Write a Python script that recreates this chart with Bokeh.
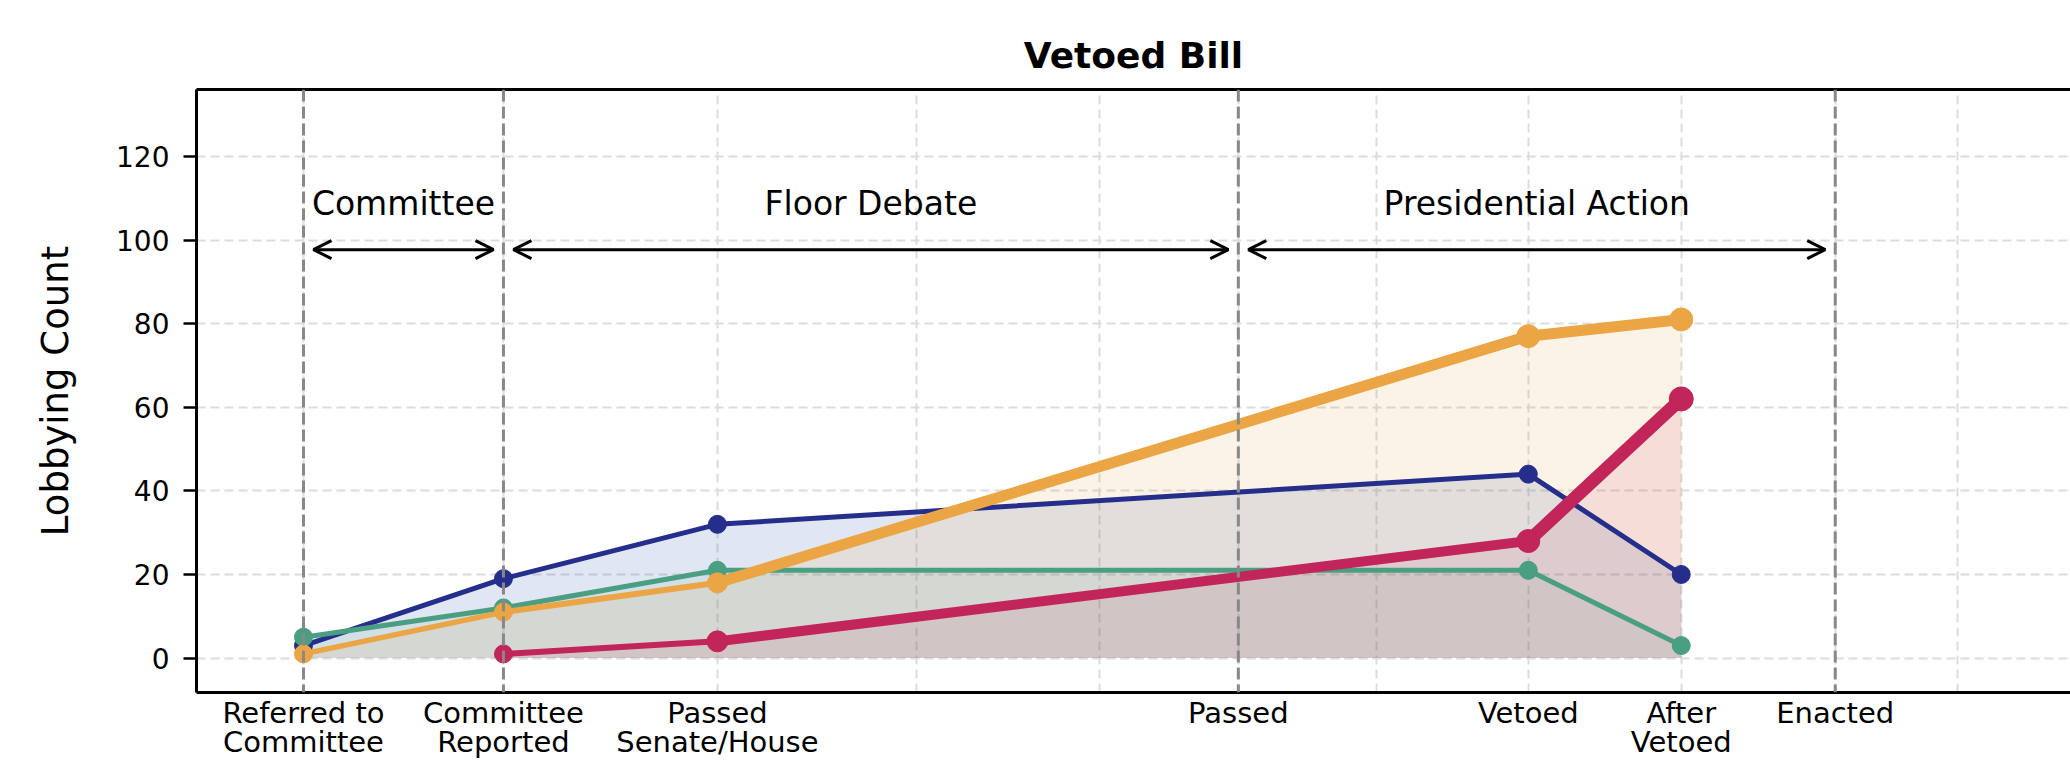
from bokeh.plotting import figure
from bokeh.models import (Range1d, FixedTicker, LinearAxis, Span, Arrow, OpenHead,
                          ColumnDataSource)
from bokeh.embed import file_html
from bokeh.resources import INLINE
from bokeh.core.properties import value

# ---------------- data ----------------
stage_labels = ["Referred to\nCommittee", "Committee\nReported", "Passed\nSenate/House",
                "Passed", "Vetoed", "After\nVetoed", "Enacted"]
stage_pos = [0, 200, 414, 935, 1225, 1378, 1532]
extra_grid_pos = [613, 796, 1073, 1654]

phase_names = ["Committee", "Floor Debate", "Presidential Action"]
phase_bounds = [0, 200, 935, 1532]

y_ticks = [0, 20, 40, 60, 80, 100, 120]

series_a = [3, 19, 32, None, 44, 20, None]      # navy
series_b = [5, 12, 21, None, 21, 3, None]       # green
series_c = [1, 11, 18, None, 77, 81, None]      # orange
series_d = [None, 1, 4, None, 28, 62, None]     # crimson

# ---------------- styles ----------------
FONT = "DejaVu Sans"
Y_START, Y_END = -8.23, 136.0
styles = [
    dict(vals=series_a, color="#252E8A", fill="#3060B0", alpha=0.15,
         seg_w=[5, 5, 5, 5], msize=[18, 18, 18, 18, 18]),
    dict(vals=series_b, color="#4A9E82", fill="#4D9E84", alpha=0.10,
         seg_w=[5, 5, 5, 5], msize=[18, 18, 18, 18, 18]),
    dict(vals=series_c, color="#EBA545", fill="#EBA545", alpha=0.13,
         seg_w=[5.5, 6, 11, 11], msize=[18, 18, 20, 23, 23]),
    dict(vals=series_d, color="#C2255A", fill="#C2265A", alpha=0.10,
         seg_w=[6, 10, 13], msize=[18, 21, 23, 24]),
]

p = figure(width=2070, height=762,
           x_range=Range1d(-107, 1767.3), y_range=Range1d(Y_START, Y_END),
           output_backend="svg", toolbar_location=None,
           min_border_left=196, min_border_right=0, min_border_top=89, min_border_bottom=70)
p.outline_line_color = None
p.background_fill_color = "white"
p.border_fill_color = "white"

# title
p.title.text = "Vetoed Bill"
p.title.align = "center"
p.title.text_font = FONT
p.title.text_font_size = "36px"
p.title.text_font_style = "bold"
p.title.text_color = "black"
p.title.standoff = 28

# grids
p.xgrid.ticker = FixedTicker(ticks=stage_pos + extra_grid_pos)
for g in (p.xgrid, p.ygrid):
    g.grid_line_color = "#dcdcdc"
    g.grid_line_dash = "9 5"
    g.grid_line_width = 2

# x axis with two-line stage labels
p.xaxis.ticker = FixedTicker(ticks=stage_pos)
p.xaxis.major_label_overrides = {pos: lab for pos, lab in zip(stage_pos, stage_labels)}
p.xaxis.major_tick_out = 0
p.xaxis.major_tick_in = 0
p.xaxis.minor_tick_out = 0
p.xaxis.minor_tick_in = 0
p.xaxis.axis_line_width = 3
p.xaxis.axis_line_color = "black"
p.xaxis.major_label_text_font = FONT
p.xaxis.major_label_text_font_size = "29px"
p.xaxis.major_label_text_line_height = 0.88
p.xaxis.major_label_text_color = "black"
p.xaxis.major_label_standoff = 3

# y axis
p.yaxis.ticker = FixedTicker(ticks=y_ticks)
p.yaxis.major_tick_out = 13
p.yaxis.major_tick_in = 0
p.yaxis.minor_tick_out = 0
p.yaxis.minor_tick_in = 0
p.yaxis.major_tick_line_width = 2.5
p.yaxis.major_tick_line_color = "black"
p.yaxis.axis_line_width = 3
p.yaxis.axis_line_color = "black"
p.yaxis.major_label_text_font = FONT
p.yaxis.major_label_text_font_size = "28px"
p.yaxis.major_label_text_color = "black"
p.yaxis.major_label_standoff = 14
p.yaxis.axis_label = "Lobbying Count"
p.yaxis.axis_label_text_font = FONT
p.yaxis.axis_label_text_font_size = "37px"
p.yaxis.axis_label_text_font_style = "normal"
p.yaxis.axis_label_text_color = "black"
p.yaxis.axis_label_standoff = 36

# top border
top = LinearAxis(ticker=FixedTicker(ticks=[]), major_tick_out=0, major_tick_in=0,
                 minor_tick_out=0, minor_tick_in=0, major_label_text_font_size="0px",
                 axis_line_width=3, axis_line_color="black")
p.add_layout(top, "above")

# fills
for st in styles:
    xs = [x for x, v in zip(stage_pos, st["vals"]) if v is not None]
    ys = [v for v in st["vals"] if v is not None]
    p.varea(x=xs, y1=[0] * len(xs), y2=ys, fill_color=st["fill"], fill_alpha=st["alpha"])

# lines and markers
for st in styles:
    xs = [x for x, v in zip(stage_pos, st["vals"]) if v is not None]
    ys = [v for v in st["vals"] if v is not None]
    src = ColumnDataSource(dict(
        xs=[[xs[i], xs[i + 1]] for i in range(len(xs) - 1)],
        ys=[[ys[i], ys[i + 1]] for i in range(len(ys) - 1)],
        w=st["seg_w"]))
    p.multi_line(xs="xs", ys="ys", line_width="w", line_color=st["color"],
                 line_cap="round", line_join="round", source=src)
    p.scatter(x=xs, y=ys, size=st["msize"], fill_color=st["color"], line_color=st["color"],
              line_width=1)

# phase boundaries
for b in phase_bounds:
    p.add_layout(Span(location=b, dimension="height", line_color="#888888",
                      line_dash="12 5", line_width=3))

# phase arrows and names
for i, name in enumerate(phase_names):
    a, b = phase_bounds[i], phase_bounds[i + 1]
    p.add_layout(Arrow(start=OpenHead(size=18, line_width=3, line_color="black"),
                       end=OpenHead(size=18, line_width=3, line_color="black"),
                       x_start=a + 10, x_end=b - 10, y_start=97.7, y_end=97.7,
                       line_width=3, line_color="black"))
p.text(x=[(phase_bounds[i] + phase_bounds[i + 1]) / 2 for i in range(3)],
       y=[108.7] * 3, text=phase_names, text_align="center", text_baseline="alphabetic",
       text_font=value(FONT), text_font_size=value("33px"), text_color="black")

open("out.html", "w").write(file_html(p, INLINE))
